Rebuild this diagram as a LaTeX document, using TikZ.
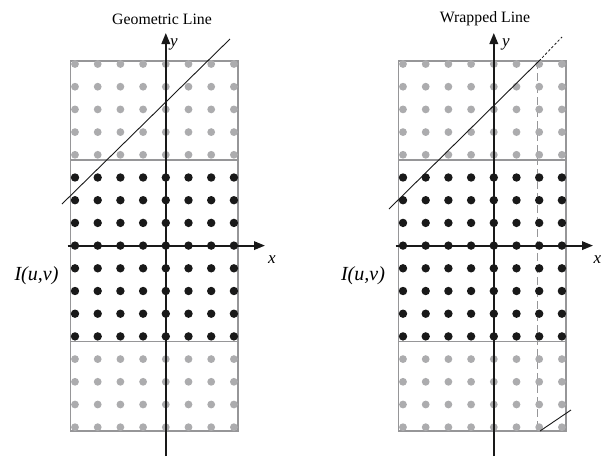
\documentclass[tikz,border=0pt]{standalone}
\usepackage{fontspec}
\setmainfont{Liberation Serif}
\usetikzlibrary{arrows.meta}
\definecolor{dotgray}{RGB}{172,172,174}
\definecolor{boxgray}{RGB}{150,150,152}
\definecolor{dotblack}{RGB}{25,25,25}
\tikzset{
  graydot/.style={fill=dotgray},
  blackdot/.style={fill=dotblack},
  boxline/.style={draw=boxgray,line width=1.1pt},
  axisline/.style={draw=dotblack,line width=1.8pt,-{Triangle[length=11pt,width=8.5pt]}},
  geoline/.style={draw=dotblack,line width=0.9pt},
  dottedgeo/.style={draw=dotblack,line width=0.8pt,dash pattern=on 2.5pt off 2pt},
  wrapdash/.style={draw=boxgray,line width=1.1pt,dash pattern=on 8pt off 4pt},
  titletext/.style={font=\fontsize{15.8}{18}\selectfont},
  axislabel/.style={font=\fontsize{17}{20}\selectfont\itshape},
  imglabel/.style={font=\fontsize{20}{23}\selectfont\itshape}
}
\newcommand{\panelbox}{%
  \draw[boxline] (70.7,61) rectangle (238,431);
  \draw[boxline] (70.7,160) -- (238,160);
  \draw[boxline] (70.7,341.7) -- (238,341.7);
}
\newcommand{\paneldots}{%
  \foreach \i in {0,...,7}{
    \foreach \j in {0,1,2,3,4,13,14,15,16}{
      \fill[graydot] ({75+22.7*\i},{64+22.7*\j}) circle (3.9);
    }
    \foreach \j in {5,...,12}{
      \fill[blackdot] ({75+22.7*\i},{64+22.7*\j}) circle (4.2);
    }
  }
}
\begin{document}
\begin{tikzpicture}[x=1pt,y=-1pt]
\useasboundingbox (0,0) rectangle (603,456);
% ---------- left panel: geometric line ----------
\panelbox
\paneldots
\coordinate (Lxs) at (67.7,245.6);
\coordinate (Lxe) at (265,245.6);
\coordinate (Lys) at (165.8,456);
\coordinate (Lye) at (165.8,33);
\draw[axisline] (Lxs) -- (Lxe);
\draw[axisline] (Lys) -- (Lye);
\coordinate (La) at (62,204);
\coordinate (Lb) at (230,39);
\draw[geoline] (La) -- (Lb);
\node[titletext] (Ltitle) at (162,19) {Geometric Line};
\node[axislabel] (Ly) at (174,44) {y};
\node[axislabel] (Lx) at (272,260) {x};
\node[imglabel] (LI) at (36.5,276) {I(u,v)};
% ---------- right panel: wrapped line ----------
\begin{scope}[xshift=328pt]
\panelbox
\end{scope}
\coordinate (Rds) at (537.3,61);
\coordinate (Rde) at (537.3,431);
\draw[wrapdash] (Rds) -- (Rde);
\begin{scope}[xshift=328pt]
\paneldots
\end{scope}
\coordinate (Rxs) at (395.7,245.6);
\coordinate (Rxe) at (593,245.6);
\coordinate (Rys) at (493.8,456);
\coordinate (Rye) at (493.8,33);
\draw[axisline] (Rxs) -- (Rxe);
\draw[axisline] (Rys) -- (Rye);
\coordinate (Ra) at (389,209);
\coordinate (Rb) at (539,61);
\coordinate (Rc) at (562,37);
\draw[geoline] (Ra) -- (Rb);
\draw[dottedgeo] (Rb) -- (Rc);
\coordinate (Rd) at (540,431);
\coordinate (Re) at (571,410);
\draw[geoline] (Rd) -- (Re);
\node[titletext] (Rtitle) at (485,19) {Wrapped Line};
\node[axislabel] (Ry) at (506,44) {y};
\node[axislabel] (Rx) at (597.5,260) {x};
\node[imglabel] (RI) at (363,276) {I(u,v)};
\end{tikzpicture}
\end{document}
